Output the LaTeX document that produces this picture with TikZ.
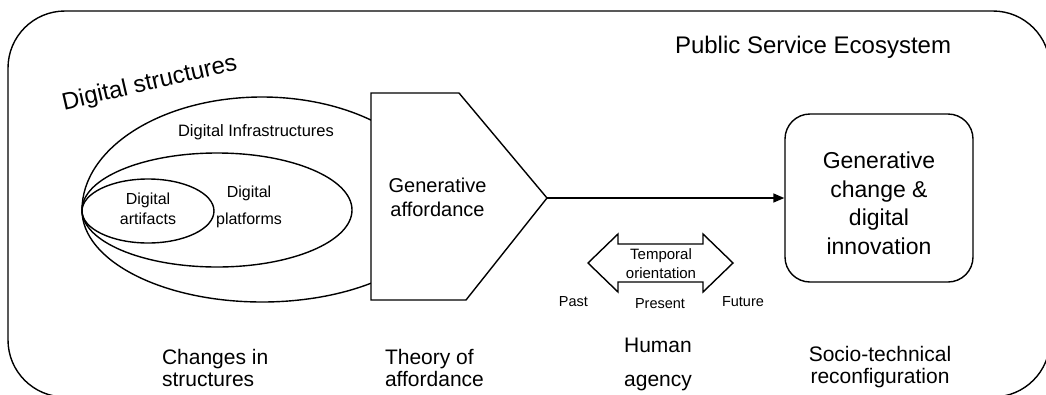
\documentclass[tikz,border=0pt]{standalone}
\usepackage{fontspec}
\setmainfont{Liberation Sans}
\usetikzlibrary{shapes.geometric,arrows.meta}
\newcommand{\fsz}[2]{\fontsize{#1}{#2}\selectfont}
\begin{document}
\begin{tikzpicture}[x=1pt,y=-1pt,
  line/.style={draw=black,line width=1.4pt},
  lbl/.style={inner sep=0pt,outer sep=0pt,text=black},
  ell/.style={line,ellipse,inner sep=0pt,fill=none}]
\useasboundingbox (0,0) rectangle (1046,394);
% outer ecosystem frame
\begin{scope}
\clip (0,0) rectangle (1046,394);
\draw[line,rounded corners=57pt] (8,11) rectangle (1050,397);
\end{scope}
\node[lbl,anchor=base west,font=\fsz{24}{26}] (eco) at (675,53) {Public Service Ecosystem};
% digital structures
\node[lbl,anchor=base west,rotate=13,font=\fsz{24}{26}] (ds) at (64,110) {Digital structures};
\draw[line] (82,210) arc[start angle=180,end angle=330,x radius=180,y radius=113];
\draw[line] (82,210) arc[start angle=180,end angle=30,x radius=180,y radius=92];
\node[ell,minimum width=270pt,minimum height=114pt] (plat) at (217,210) {};
\node[ell,minimum width=132pt,minimum height=64pt] (art) at (148,211) {};
\node[lbl,anchor=base west,font=\fsz{16.5}{18}] (infra) at (178,136) {Digital Infrastructures};
\node[lbl,anchor=north,align=center,font=\fsz{16}{20}] (artl) at (148,193) {Digital\\artifacts};
\node[lbl,anchor=north,align=center,font=\fsz{16}{27}] (platl) at (249,186) {Digital\\platforms};
% generative affordance pentagon
\coordinate (p1) at (371,93);
\coordinate (p2) at (459,93);
\coordinate (tip) at (547,198);
\coordinate (p4) at (466,300);
\coordinate (p5) at (371,300);
\draw[line,fill=white,line join=miter] (p1) -- (p2) -- (tip) -- (p4) -- (p5) -- cycle;
\node[lbl,anchor=north,align=center,font=\fsz{20}{24}] (ga) at (437.5,178) {Generative\\affordance};
% outcome box
\node[line,rounded corners=25pt,minimum width=188pt,minimum height=168pt,inner sep=0pt] (chg) at (879,198) {};
\node[lbl,anchor=north,align=center,font=\fsz{23}{28.5}] (chgl) at (879,152) {Generative\\change \&\\digital\\innovation};
\draw[line,-{Triangle[length=11pt,width=9pt]}] (tip) -- (chg.west);
% temporal orientation double arrow
\coordinate (tl) at (588,263);
\coordinate (tr) at (733,263);
\draw[line,line join=miter] (tl) -- (618,234) -- (618,244) -- (703,244) -- (703,234) -- (tr) -- (703,292) -- (703,282) -- (618,282) -- (618,292) -- cycle;
\node[lbl,anchor=north,align=center,font=\fsz{15}{18.5}] (temp) at (661,249) {Temporal\\orientation};
\node[lbl,anchor=base east,font=\fsz{14.5}{16}] (past) at (588,306) {Past};
\node[lbl,anchor=base,font=\fsz{14.5}{16}] (pres) at (660,308) {Present};
\node[lbl,anchor=base west,font=\fsz{14.5}{16}] (fut) at (722,306) {Future};
% bottom labels
\node[lbl,anchor=north west,align=left,font=\fsz{21}{22}] (cis) at (162,349.5) {Changes in\\structures};
\node[lbl,anchor=north west,align=left,font=\fsz{21}{22}] (toa) at (385,349.5) {Theory of\\affordance};
\node[lbl,anchor=north,align=center,font=\fsz{21}{34}] (ha) at (658,338) {Human\\agency};
\node[lbl,anchor=north,align=center,font=\fsz{21}{21.5}] (str) at (880,346.5) {Socio-technical\\reconfiguration};
\end{tikzpicture}
\end{document}
